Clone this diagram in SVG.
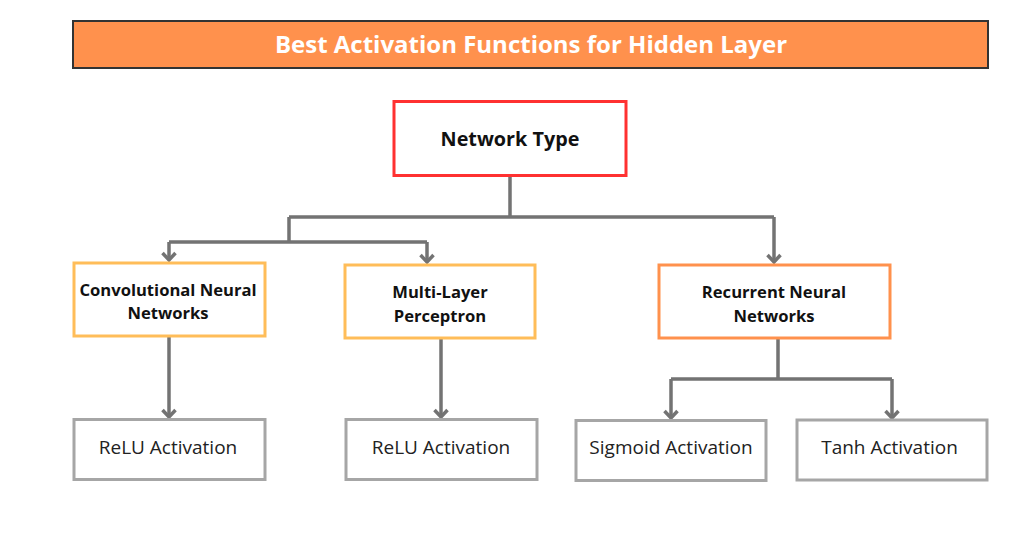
<svg xmlns="http://www.w3.org/2000/svg" width="1024" height="536" viewBox="0 0 1024 536">
<style>
.title{font-family:"Open Sans","Liberation Sans",sans-serif;font-weight:700;font-size:24px;fill:#ffffff}
.bold{font-family:"Open Sans","Liberation Sans",sans-serif;font-weight:700;font-size:16.6px;fill:#111111}
.big{font-size:19.8px}
.reg{font-family:"Open Sans","Liberation Sans",sans-serif;font-weight:400;font-size:19px;fill:#222222}
.conn{fill:none;stroke:#737373;stroke-width:3.5;stroke-linejoin:miter}
.leaf{fill:#ffffff;stroke:#A6A6A6;stroke-width:3}
.yel{fill:#ffffff;stroke:#FFBD59;stroke-width:3}
.org{fill:#ffffff;stroke:#FF914D;stroke-width:3}
</style>
<defs>
<marker id="arr" markerUnits="userSpaceOnUse" markerWidth="20" markerHeight="20" viewBox="-12 -10 16 20" refX="0" refY="0" orient="auto">
<path d="M-7,-6.5 L0,0 L-7,6.5" fill="none" stroke="#737373" stroke-width="3.5"/>
</marker>
</defs>
<rect width="1024" height="536" fill="#ffffff"/>
<g id="title">
<rect x="73" y="21" width="915" height="47" fill="#FF914D" stroke="#333333" stroke-width="2"/>
<text class="title" x="531" y="53" text-anchor="middle">Best Activation Functions for Hidden Layer</text>
</g>
<g id="connectors">
<path class="conn" d="M510,176 V217 M289,217 H774"/>
<path class="conn" d="M289,217 V242 M169,242 H427"/>
<path class="conn" marker-end="url(#arr)" d="M169,242 V260"/>
<path class="conn" marker-end="url(#arr)" d="M427,242 V262"/>
<path class="conn" marker-end="url(#arr)" d="M774,217 V262"/>
<path class="conn" marker-end="url(#arr)" d="M169,337 V417"/>
<path class="conn" marker-end="url(#arr)" d="M441,339 V417"/>
<path class="conn" d="M778,339 V379 M671,379 H892"/>
<path class="conn" marker-end="url(#arr)" d="M671,379 V418"/>
<path class="conn" marker-end="url(#arr)" d="M892,379 V418"/>
</g>
<g id="network-type">
<rect x="394" y="101.5" width="232" height="74" fill="#ffffff" stroke="#FF3131" stroke-width="3"/>
<text class="bold big" x="510" y="146" text-anchor="middle">Network Type</text>
</g>
<g id="cnn">
<rect x="74" y="263" width="191" height="73" class="yel"/>
<text class="bold" x="168" y="296" text-anchor="middle">Convolutional Neural</text>
<text class="bold" x="168" y="319" text-anchor="middle">Networks</text>
</g>
<g id="mlp">
<rect x="345" y="265" width="190" height="73" class="yel"/>
<text class="bold" x="440" y="298" text-anchor="middle">Multi-Layer</text>
<text class="bold" x="440" y="322" text-anchor="middle">Perceptron</text>
</g>
<g id="rnn">
<rect x="659" y="265" width="231" height="73" class="org"/>
<text class="bold" x="774" y="298" text-anchor="middle">Recurrent Neural</text>
<text class="bold" x="774" y="322" text-anchor="middle">Networks</text>
</g>
<g id="relu1">
<rect x="74" y="419.5" width="191" height="60" class="leaf"/>
<text class="reg" x="168" y="454" text-anchor="middle">ReLU Activation</text>
</g>
<g id="relu2">
<rect x="346" y="419.5" width="191" height="60" class="leaf"/>
<text class="reg" x="441" y="454" text-anchor="middle">ReLU Activation</text>
</g>
<g id="sigmoid">
<rect x="576" y="420.5" width="190" height="60" class="leaf"/>
<text class="reg" x="671" y="454" text-anchor="middle">Sigmoid Activation</text>
</g>
<g id="tanh">
<rect x="797" y="420" width="190" height="60" class="leaf"/>
<text class="reg" x="889.5" y="454" text-anchor="middle">Tanh Activation</text>
</g>
</svg>
